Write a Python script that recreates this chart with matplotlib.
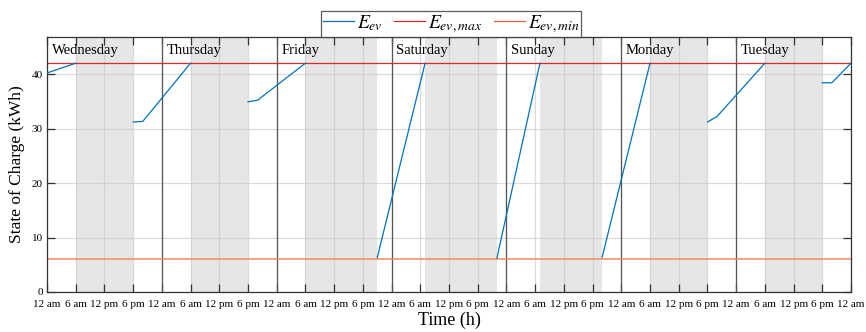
import numpy as np
import matplotlib
matplotlib.use('Agg')
import matplotlib.pyplot as plt

plt.rcParams['font.family'] = ['Liberation Serif', 'DejaVu Serif']
plt.rcParams['mathtext.fontset'] = 'stix'

# hours since Wednesday 12 am, nan breaks the line where the car is away
hours = [0, 6, np.nan,
         18, 20, 30, np.nan,
         42, 44, 54, np.nan,
         69, 79, np.nan,
         94, 103, np.nan,
         116, 126, np.nan,
         138, 140, 150, np.nan,
         162, 164, 168]
soc = [40.2, 42, np.nan,
       31.2, 31.3, 42, np.nan,
       34.9, 35.2, 42, np.nan,
       6.3, 42, np.nan,
       6.2, 42, np.nan,
       6.4, 42, np.nan,
       31.2, 32.2, 42, np.nan,
       38.4, 38.4, 42]

e_max = 42
e_min = 6

# car away from home (start hour, end hour)
away = [(6, 18), (30, 42), (54, 69), (79, 94), (103, 116), (126, 138), (150, 162)]

days = ['Wednesday', 'Thursday', 'Friday', 'Saturday', 'Sunday', 'Monday', 'Tuesday']
tick_names = ['12 am', '6 am', '12 pm', '6 pm']

fig = plt.figure(figsize=(8.66, 3.32), dpi=100)
ax = fig.add_axes([0.0543, 0.1205, 0.9284, 0.7681])

for a, b in away:
    ax.axvspan(a, b, color='#e6e6e6', lw=0, zorder=0)

ax.set_xlim(0, 168)
ax.set_ylim(0, 46.8)
xt = np.arange(0, 169, 6)
ax.set_xticks(xt)
ax.set_xticklabels([tick_names[i % 4] for i in range(len(xt))], fontsize=8.0)
ax.set_yticks([0, 10, 20, 30, 40])
ax.tick_params(axis='y', labelsize=8.0, pad=3)
ax.tick_params(axis='x', pad=6)
ax.tick_params(direction='in', top=True, right=True, length=6, width=0.9, color='#333333')
ax.grid(True, color='#cccccc', lw=0.9, alpha=0.7, zorder=0.5)
ax.set_axisbelow(True)

for d in range(1, 7):
    ax.axvline(24 * d, color='#555555', lw=0.9, zorder=1)
for d, name in enumerate(days):
    ax.text(24 * d + 1, 45.6, name, fontsize=10.5, va='top', ha='left', zorder=5)

l1, = ax.plot(hours, soc, color='#0072bd', lw=0.9, zorder=3)
l2 = ax.axhline(e_max, color='#e8242a', lw=0.9, zorder=2)
l3 = ax.axhline(e_min, color='#f08c5c', lw=1.1, zorder=2)
l3_leg, = ax.plot([], [], color='#f2603a', lw=0.9)

for s in ax.spines.values():
    s.set_color('#333333')
    s.set_linewidth(0.9)

ax.set_xlabel('Time (h)', fontsize=13, labelpad=2)
ax.set_ylabel('State of Charge (kWh)', fontsize=12.5, labelpad=5)

leg = ax.legend([l1, l2, l3_leg], [r'$E_{ev}$', r'$E_{ev,max}$', r'$E_{ev,min}$'],
                loc='lower center', bbox_to_anchor=(0.5025, 1.0), ncol=3, fontsize=14,
                frameon=True, fancybox=False, edgecolor='#333333', handlelength=1.6,
                handletextpad=0.15, columnspacing=0.6, borderpad=0.1, borderaxespad=0)
leg.get_frame().set_linewidth(0.9)

fig.savefig('out.png', dpi=100)
